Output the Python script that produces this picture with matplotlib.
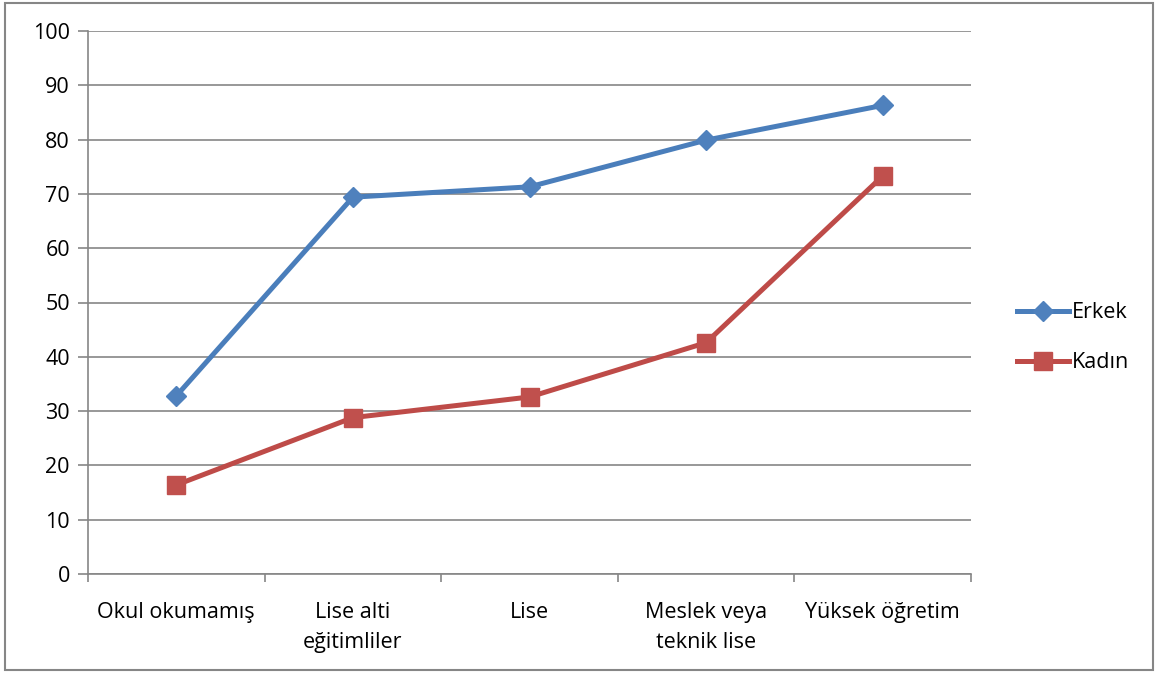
import matplotlib.pyplot as plt
from matplotlib.patches import Rectangle
import numpy as np

categories = ["Okul okumamış", "Lise alti\neğitimliler", "Lise", "Meslek veya\nteknik lise", "Yüksek öğretim"]
erkek = [32.8, 69.4, 71.3, 79.9, 86.3]
kadin = [16.4, 28.8, 32.6, 42.6, 73.3]
yticks = [0, 10, 20, 30, 40, 50, 60, 70, 80, 90, 100]

plt.rcParams['font.family'] = ['Open Sans', 'DejaVu Sans']

fig = plt.figure(figsize=(11.58, 6.75), dpi=100)
ax = fig.add_axes([88/1158, 1 - 574/675, (971-88)/1158, (574-31)/675])

grid_c = '#868686'
fs = 15.5
x = np.arange(len(categories)) + 0.5

ax.plot(x, erkek, color='#4A7EBB', lw=3.6, marker='D', ms=10, mfc='#4F81BD', mec='#4F81BD', label='Erkek', zorder=3)
ax.plot(x, kadin, color='#BE4B48', lw=3.6, marker='s', ms=13, mfc='#C0504D', mec='#C0504D', label='Kadın', zorder=3)

ax.set_xlim(0, len(categories))
ax.set_ylim(0, 100)
ax.set_yticks(yticks)
ax.set_xticks(np.arange(len(categories) + 1))
ax.set_xticklabels([])
ax.set_xticks(x, minor=True)
ax.set_xticklabels(categories, minor=True, fontsize=fs, linespacing=1.55)
ax.tick_params(axis='x', which='minor', length=0, pad=20)
ax.tick_params(axis='x', which='major', length=6, color=grid_c, width=1.2)
ax.tick_params(axis='y', length=7, color=grid_c, width=1.2, labelsize=fs, pad=6)

ax.yaxis.grid(True, color=grid_c, lw=1.2)
ax.set_axisbelow(True)
for s in ['top', 'right']:
    ax.spines[s].set_visible(False)
for s in ['left', 'bottom']:
    ax.spines[s].set_color(grid_c)
    ax.spines[s].set_linewidth(1.2)

ax.legend(loc='center left', bbox_to_anchor=(1.03, 0.435), frameon=False, fontsize=fs,
          handlelength=2.4, handletextpad=0.15, labelspacing=1.35)

fig.patches.append(Rectangle((5/1158, 5/675), 1148/1158, 667/675, transform=fig.transFigure,
                             fill=False, edgecolor=grid_c, lw=1.5))

fig.savefig('out.png', dpi=100)
